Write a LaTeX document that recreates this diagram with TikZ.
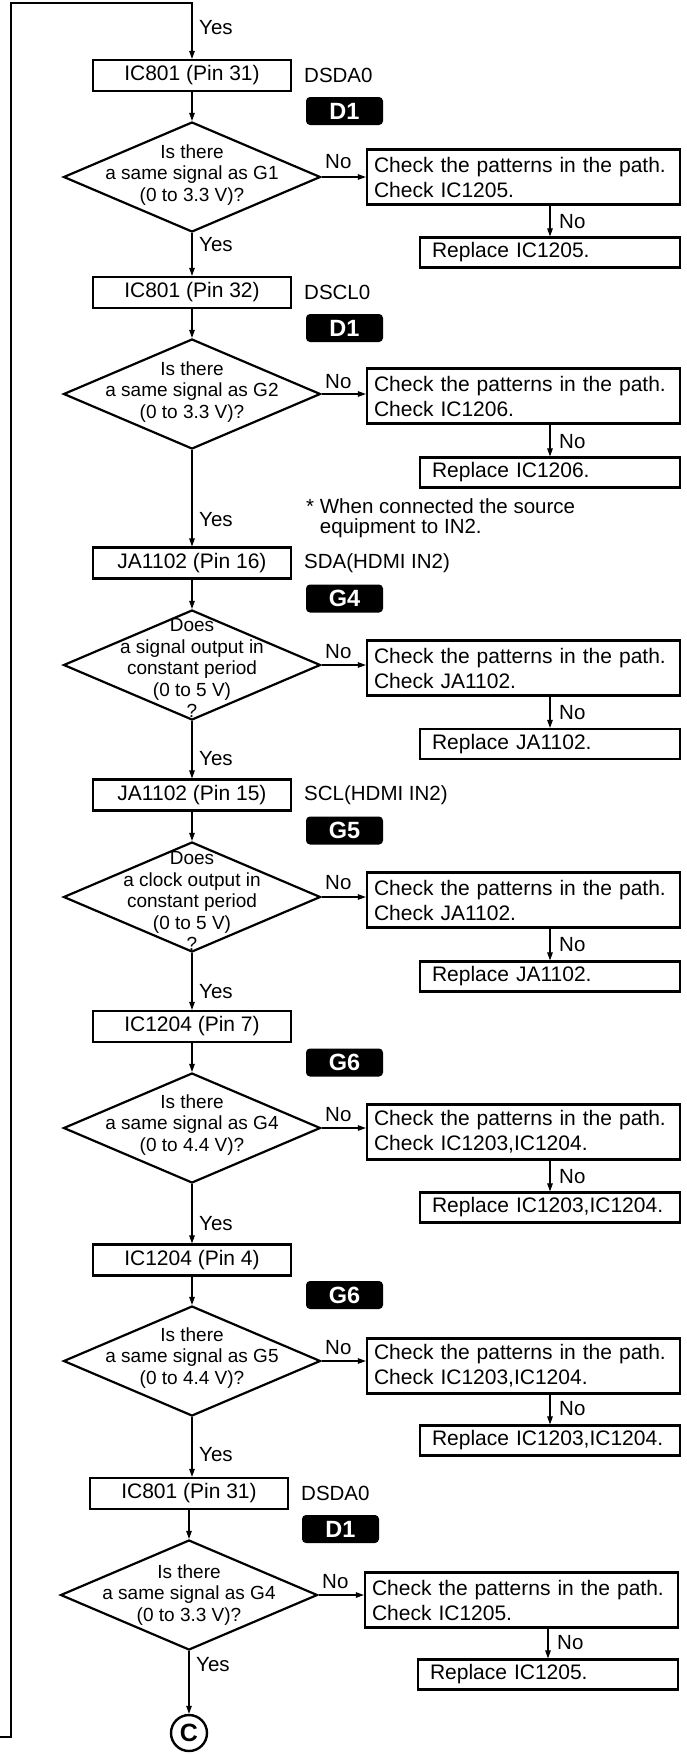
\documentclass[tikz,border=0pt]{standalone}
\usepackage{fontspec}
\setmainfont{Liberation Sans}
\usetikzlibrary{arrows.meta,shapes.geometric}
\begin{document}
\begin{tikzpicture}[x=1pt,y=-1pt,
  box/.style={draw, line width=2.2pt, minimum width=198pt, minimum height=31pt, inner sep=0pt, font=\fontsize{21}{25}\selectfont},
  chk/.style={draw, line width=2.2pt, minimum height=55pt, inner xsep=7pt, inner ysep=0pt, text width=299pt, align=left, font=\fontsize{21}{25}\selectfont},
  rep/.style={draw, line width=2.2pt, minimum height=30pt, inner xsep=12pt, inner ysep=0pt, text width=236pt, align=left, font=\fontsize{21}{25}\selectfont},
  dia/.style={draw, diamond, line width=2.2pt, minimum width=257pt, minimum height=110pt, inner sep=0pt},
  dtxt/.style={align=center, font=\fontsize{19}{21.5}\selectfont, inner sep=0pt},
  badge/.style={fill=black, rounded corners=4pt, minimum width=77pt, minimum height=28pt, inner sep=0pt, text=white, font=\fontsize{23.5}{26}\selectfont\bfseries},
  lbl/.style={font=\fontsize{20.5}{24}\selectfont, inner sep=0pt, anchor=west},
  arr/.style={line width=1.1pt, -{Triangle[length=8pt,width=5.5pt]}},
]
\useasboundingbox (0,0) rectangle (686,1754);

% ---------- main boxes ----------
\node[box] (b1) at (192,75.5) {IC801 (Pin 31)};
\node[box] (b2) at (192,292.5) {IC801 (Pin 32)};
\node[box] (b3) at (192,563) {JA1102 (Pin 16)};
\node[box] (b4) at (192,795) {JA1102 (Pin 15)};
\node[box] (b5) at (192,1026.5) {IC1204 (Pin 7)};
\node[box] (b6) at (192,1260) {IC1204 (Pin 4)};
\node[box] (b7) at (189,1493.5) {IC801 (Pin 31)};

% ---------- side labels ----------
\node[lbl] (s1) at (304,75.5) {DSDA0};
\node[lbl] (s2) at (304,292.5) {DSCL0};
\node[lbl] (s3) at (304,563) {SDA(HDMI IN2)};
\node[lbl] (s4) at (304,795) {SCL(HDMI IN2)};
\node[lbl] (s7) at (301,1493.5) {DSDA0};

% ---------- badges ----------
\node[badge] (g1) at (344.5,111) {D1};
\node[badge] (g2) at (344.5,328) {D1};
\node[badge] (g3) at (344.5,598.5) {G4};
\node[badge] (g4) at (344.5,830.5) {G5};
\node[badge] (g5) at (344.5,1062.5) {G6};
\node[badge] (g6) at (344.5,1295) {G6};
\node[badge] (g7) at (340.5,1529) {D1};

% ---------- diamonds ----------
\node[dia] (d1) at (192,177) {};
\node[dtxt] (t1) at (192,175) {Is there\\a same signal as G1\\(0 to 3.3 V)?};
\node[dia] (d2) at (192,394) {};
\node[dtxt] (t2) at (192,392) {Is there\\a same signal as G2\\(0 to 3.3 V)?};
\node[dia] (d3) at (192,665) {};
\node[dtxt] (t3) at (192,668) {Does\\a signal output in\\constant period\\(0 to 5 V)\\?};
\node[dia] (d4) at (192,897) {};
\node[dtxt] (t4) at (192,901) {Does\\a clock output in\\constant period\\(0 to 5 V)\\?};
\node[dia] (d5) at (192,1128) {};
\node[dtxt] (t5) at (192,1125) {Is there\\a same signal as G4\\(0 to 4.4 V)?};
\node[dia] (d6) at (192,1361) {};
\node[dtxt] (t6) at (192,1358) {Is there\\a same signal as G5\\(0 to 4.4 V)?};
\node[dia] (d7) at (189,1595) {};
\node[dtxt] (t7) at (189,1595) {Is there\\a same signal as G4\\(0 to 3.3 V)?};

% ---------- check boxes ----------
\node[chk] (c1) at (523.5,177) {Check the patterns in the path.\\Check IC1205.};
\node[chk] (c2) at (523.5,396) {Check the patterns in the path.\\Check IC1206.};
\node[chk] (c3) at (523.5,668) {Check the patterns in the path.\\Check JA1102.};
\node[chk] (c4) at (523.5,900) {Check the patterns in the path.\\Check JA1102.};
\node[chk] (c5) at (523.5,1132) {Check the patterns in the path.\\Check IC1203,IC1204.};
\node[chk] (c6) at (523.5,1366) {Check the patterns in the path.\\Check IC1203,IC1204.};
\node[chk] (c7) at (521.5,1600) {Check the patterns in the path.\\Check IC1205.};

% ---------- replace boxes ----------
\node[rep] (r1) at (550,252.5) {Replace IC1205.};
\node[rep] (r2) at (550,472.5) {Replace IC1206.};
\node[rep] (r3) at (550,744) {Replace JA1102.};
\node[rep] (r4) at (550,976.5) {Replace JA1102.};
\node[rep] (r5) at (550,1207.5) {Replace IC1203,IC1204.};
\node[rep] (r6) at (550,1440.5) {Replace IC1203,IC1204.};
\node[rep] (r7) at (548,1674.5) {Replace IC1205.};

% ---------- note ----------
\node[lbl, align=left, font=\fontsize{20.5}{20}\selectfont] (note) at (306,518) {* When connected the source\\\phantom{* }equipment to IN2.};

% ---------- end circle ----------
\node[draw, circle, line width=2.4pt, minimum size=36pt, inner sep=0pt, font=\fontsize{25}{27}\selectfont\bfseries] (C) at (189,1733) {C};

% ---------- loop line ----------
\coordinate (lp0) at (0,1737);
\coordinate (lp1) at (11,1737);
\coordinate (lp2) at (11,3);
\coordinate (lp3) at (192,3);
\draw[arr] (lp0) -- (lp1) -- (lp2) -- (lp3) -- (b1.north);

% ---------- main flow ----------
\draw[arr] (b1.south) -- (d1.north);
\draw[arr] (d1.south) -- (b2.north);
\draw[arr] (b2.south) -- (d2.north);
\draw[arr] (d2.south) -- (b3.north);
\draw[arr] (b3.south) -- (d3.north);
\draw[arr] (d3.south) -- (b4.north);
\draw[arr] (b4.south) -- (d4.north);
\draw[arr] (d4.south) -- (b5.north);
\draw[arr] (b5.south) -- (d5.north);
\draw[arr] (d5.south) -- (b6.north);
\draw[arr] (b6.south) -- (d6.north);
\draw[arr] (d6.south) -- (d6.south |- b7.north);
\draw[arr] (b7.south) -- (d7.north);
\draw[arr] (d7.south) -- (C.north);

% ---------- No branches ----------
\foreach \i in {1,...,7}{
  \draw[arr] (d\i.east) -- (d\i.east -| c\i.west);
  \draw[arr] (r\i.north |- c\i.south) -- (r\i.north);
}

% ---------- Yes labels ----------
\node[lbl] (y0) at (199,28) {Yes};
\node[lbl] (y1) at (199,245) {Yes};
\node[lbl] (y2) at (199,520) {Yes};
\node[lbl] (y3) at (199,759) {Yes};
\node[lbl] (y4) at (199,992) {Yes};
\node[lbl] (y5) at (199,1224) {Yes};
\node[lbl] (y6) at (199,1455) {Yes};
\node[lbl] (y7) at (196,1665) {Yes};

% ---------- No labels ----------
\node[lbl] (n1) at (325,162) {No};
\node[lbl] (n2) at (325,382) {No};
\node[lbl] (n3) at (325,652) {No};
\node[lbl] (n4) at (325,883) {No};
\node[lbl] (n5) at (325,1115) {No};
\node[lbl] (n6) at (325,1348) {No};
\node[lbl] (n7) at (322,1582) {No};
\node[lbl] (m1) at (559,222) {No};
\node[lbl] (m2) at (559,442) {No};
\node[lbl] (m3) at (559,713) {No};
\node[lbl] (m4) at (559,945) {No};
\node[lbl] (m5) at (559,1177) {No};
\node[lbl] (m6) at (559,1409) {No};
\node[lbl] (m7) at (557,1643) {No};
\end{tikzpicture}
\end{document}
